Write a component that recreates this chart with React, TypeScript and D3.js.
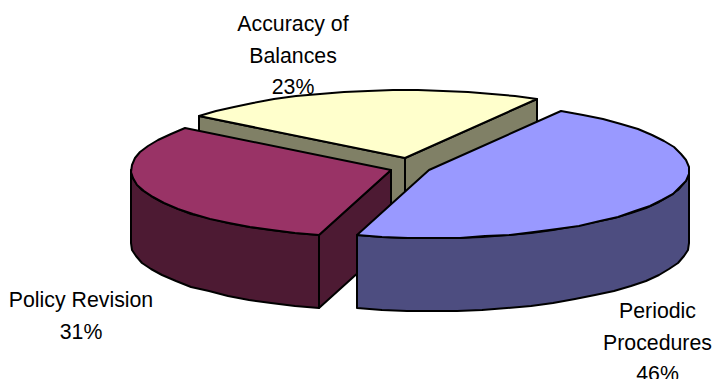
import React from "react";
import * as d3 from "d3";

// Share of each category, clockwise from the first slice
const categories = ["Periodic Procedures", "Policy Revision", "Accuracy of Balances"];
const shares = [46, 31, 23];
const labelLines = [
  ["Periodic", "Procedures", "46%"],
  ["Policy Revision", "31%"],
  ["Accuracy of", "Balances", "23%"],
];
const topColors = ["#9999FF", "#993366", "#FFFFCC"];
const sideColors = ["#4D4D80", "#4D1A33", "#808066"];
// Where each exploded slice's apex lands on the canvas
const apexX = [429, 391, 405];
const apexY = [170, 170, 158];
const labelX = [657.5, 81, 293];
const labelY = [318, 307, 31];

const W = 716;
const H = 379;
const RX = 260;
const RY = 68;
const DEPTH = 73;
const LINE_GAP = 31.7;
const FONT_SIZE = 21.3;
const START = (30.5 * Math.PI) / 180;
const ARC_STEP = 0.1;

type P = [number, number];

const pieAngles = d3
  .pie<number>()
  .sort(null)
  .startAngle(START)
  .endAngle(START + 2 * Math.PI)(shares);

const toPath = d3.line<P>().curve(d3.curveLinearClosed);

const rim = (i: number, a: number, dz = 0): P => [
  Math.round(apexX[i] + RX * Math.sin(a)),
  Math.round(apexY[i] - RY * Math.cos(a) + dz),
];

function arcPoints(i: number, a0: number, a1: number, dz = 0): P[] {
  const n = Math.max(2, Math.ceil(Math.abs(a1 - a0) / ARC_STEP));
  return d3.range(n + 1).map((k) => rim(i, a0 + ((a1 - a0) * k) / n, dz));
}

const drop = ([x, y]: P): P => [x, y + DEPTH];

// Radial cut face; a slice's leading edge shows when sin(a) < 0, its trailing edge when sin(a) > 0
function cutFace(i: number, a: number, leading: boolean): string | null {
  const visible = leading ? Math.sin(a) < 0 : Math.sin(a) > 0;
  if (!visible) return null;
  const apex: P = [apexX[i], apexY[i]];
  const edge = rim(i, a);
  return toPath([apex, edge, drop(edge), drop(apex)]);
}

function outerWall(i: number, a0: number, a1: number): string | null {
  // The rim faces the viewer between a quarter and three quarters of a turn
  const from = Math.max(a0, Math.PI / 2);
  const to = Math.min(a1, (3 * Math.PI) / 2);
  if (to <= from) return null;
  return toPath([...arcPoints(i, from, to), ...arcPoints(i, to, from, DEPTH)]);
}

function topFace(i: number, a0: number, a1: number): string {
  return toPath([[apexX[i], apexY[i]], ...arcPoints(i, a0, a1)]) as string;
}

// Back slices first, so nearer ones cover them
const paintOrder = [2, 1, 0];

export default function App() {
  return (
    <svg
      width={W}
      height={H}
      viewBox={`0 0 ${W} ${H}`}
      style={{ position: "absolute", left: 0, top: 0, background: "#fff" }}
      role="img"
      aria-label={categories.join(", ")}
    >
      {paintOrder.map((i) => {
        const { startAngle: a0, endAngle: a1 } = pieAngles[i];
        const stroke = { stroke: "#000", strokeWidth: 2, strokeLinejoin: "round" as const };
        const faces = [cutFace(i, a0, true), cutFace(i, a1, false), outerWall(i, a0, a1)];
        return (
          <g key={categories[i]}>
            {faces.map((d, k) => d && <path key={k} d={d} fill={sideColors[i]} {...stroke} />)}
            <path d={topFace(i, a0, a1)} fill={topColors[i]} {...stroke} />
          </g>
        );
      })}
      {labelLines.map((lines, i) =>
        lines.map((line, k) => (
          <text
            key={line}
            x={labelX[i]}
            y={labelY[i] + k * LINE_GAP}
            textAnchor="middle"
            fontFamily="'Liberation Sans', Arial, sans-serif"
            fontSize={FONT_SIZE}
            fill="#000"
          >
            {line}
          </text>
        ))
      )}
    </svg>
  );
}
